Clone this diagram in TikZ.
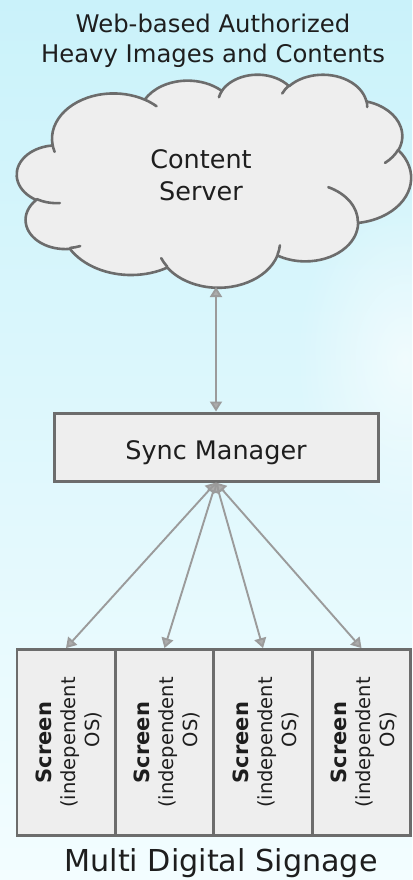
\documentclass[tikz,border=0pt]{standalone}
\usepackage{fontspec}
\setmainfont{DejaVu Sans}
\usetikzlibrary{arrows.meta,fadings,calc}

\definecolor{bgtop}{RGB}{202,242,250}
\definecolor{bgmid}{RGB}{220,249,253}
\definecolor{bgbot}{RGB}{243,253,255}
\definecolor{shapefill}{RGB}{238,238,238}
\definecolor{shapeedge}{RGB}{108,108,108}
\definecolor{linkcol}{RGB}{155,155,155}
\definecolor{headcol}{RGB}{172,172,172}
\definecolor{inkcol}{RGB}{30,30,30}

% soft radial fading for the light haze in the sky
\tikzfading[name=hazefade, inner color=transparent!0, outer color=transparent!100]

% Elliptic arc helper: radii and angles as in a preset cloud outline
% (angles measured visually, y pointing down); stores the TikZ
% start angle and sweep in \arc<name>s and \arc<name>d.
\newcommand\defarc[5]{%
  \pgfmathsetmacro\arctmpa{atan2(#2*sin(#4),#3*cos(#4))}%
  \pgfmathsetmacro\arctmpb{atan2(#2*sin(#4+#5),#3*cos(#4+#5))}%
  \pgfmathsetmacro\arctmpd{\arctmpb-\arctmpa}%
  \pgfmathsetmacro\arctmpd{\arctmpd<0 ? \arctmpd+360 : \arctmpd}%
  \pgfmathsetmacro\arctmpa{0-(\arctmpa)}%
  \pgfmathsetmacro\arctmpd{0-(\arctmpd)}%
  \expandafter\xdef\csname arc#1s\endcsname{\arctmpa}%
  \expandafter\xdef\csname arc#1d\endcsname{\arctmpd}%
}
% outline arcs
\defarc{A}{67.53}{91.90}{-190.4875}{123.7805}
\defarc{B}{53.33}{72.67}{-144.1024}{89.9452}
\defarc{C}{43.65}{59.45}{-145.8079}{99.7230}
\defarc{D}{48.57}{65.95}{-130.9861}{117.2417}
\defarc{E}{53.33}{72.73}{-78.7089}{109.0269}
\defarc{F}{67.75}{92.20}{-46.2673}{130.2690}
\defarc{G}{57.85}{78.67}{0.6250}{114.0333}
\defarc{H}{67.52}{92.15}{22.4516}{115.1726}
\defarc{I}{77.20}{105.43}{66.2426}{75.7110}
\defarc{J}{43.60}{59.18}{-274.9421}{146.7356}
\defarc{K}{43.45}{59.45}{-246.8285}{152.5189}
% inner fold arcs
\defarc{a}{43.45}{59.45}{86.7420}{26.4295}
\defarc{b}{43.60}{59.18}{73.6105}{11.4475}
\defarc{c}{67.52}{92.15}{137.6242}{14.0811}
\defarc{d}{67.52}{92.15}{6.4533}{15.9984}
\defarc{e}{57.85}{78.67}{-70.2924}{70.9174}
\defarc{f}{53.33}{72.73}{30.3180}{27.7515}
\defarc{g}{48.57}{65.95}{-13.7443}{14.8589}
\defarc{h}{48.57}{65.95}{-149.1815}{18.1954}
\defarc{i}{43.65}{59.45}{-163.4943}{17.6864}
\defarc{j}{67.53}{91.90}{-66.7070}{12.3194}
\defarc{k}{67.53}{91.90}{157.6544}{11.8582}

\tikzset{
  cloudline/.style={draw=shapeedge, line width=2.6pt, line join=round, line cap=round},
  syncbox/.style={draw=shapeedge, fill=shapefill, line width=3pt, minimum width=324pt,
    minimum height=68pt, inner sep=0pt, text height=24pt, text depth=0pt,
    font=\fontsize{25.5}{30}\selectfont, text=inkcol},
  screenbox/.style={draw=shapeedge, fill=shapefill, line width=2.8pt, minimum width=98pt,
    minimum height=186pt, inner sep=0pt},
  screentext/.style={rotate=90, align=center, inner sep=0pt, text=inkcol,
    font=\fontsize{19.5}{24}\selectfont},
  link/.style={draw=linkcol, line width=1.9pt,
    {Triangle[length=10pt,width=12pt,fill=headcol]}-{Triangle[length=10pt,width=12pt,fill=headcol]}},
  label/.style={align=center, text=inkcol, inner sep=0pt}
}

\begin{document}
\begin{tikzpicture}[x=1pt, y=1pt]
  % sky background
  \useasboundingbox (0,0) rectangle (412,-880);
  \shade[top color=bgtop, middle color=bgmid, bottom color=bgbot] (0,0) rectangle (412,-880);
  \fill[white, opacity=0.6, path fading=hazefade]
    (405,-360) ellipse (110 and 170);

  % cloud shaped server
  \begin{scope}[shift={(17,-74)}, xscale=394/432, yscale=213/432]
    \filldraw[cloudline, fill=shapefill] (39.00,-143.70)
      arc[start angle=\arcAs, delta angle=\arcAd, x radius=67.53, y radius=91.90]
      arc[start angle=\arcBs, delta angle=\arcBd, x radius=53.33, y radius=72.67]
      arc[start angle=\arcCs, delta angle=\arcCd, x radius=43.65, y radius=59.45]
      arc[start angle=\arcDs, delta angle=\arcDd, x radius=48.57, y radius=65.95]
      arc[start angle=\arcEs, delta angle=\arcEd, x radius=53.33, y radius=72.73]
      arc[start angle=\arcFs, delta angle=\arcFd, x radius=67.75, y radius=92.20]
      arc[start angle=\arcGs, delta angle=\arcGd, x radius=57.85, y radius=78.67]
      arc[start angle=\arcHs, delta angle=\arcHd, x radius=67.52, y radius=92.15]
      arc[start angle=\arcIs, delta angle=\arcId, x radius=77.20, y radius=105.43]
      arc[start angle=\arcJs, delta angle=\arcJd, x radius=43.60, y radius=59.18]
      arc[start angle=\arcKs, delta angle=\arcKd, x radius=43.45, y radius=59.45]
      -- cycle;
    \draw[cloudline]
      (46.93,-261.77) arc[start angle=\arcas, delta angle=\arcad, x radius=43.45, y radius=59.45]
      (69.28,-348.99) arc[start angle=\arcbs, delta angle=\arcbd, x radius=43.60, y radius=59.18]
      (164.78,-390.90) arc[start angle=\arccs, delta angle=\arccd, x radius=67.52, y radius=92.15]
      (288.27,-347.51) arc[start angle=\arcds, delta angle=\arcdd, x radius=67.52, y radius=92.15]
      (341.29,-229.54) arc[start angle=\arces, delta angle=\arced, x radius=57.85, y radius=78.67]
      (417.98,-153.54) arc[start angle=\arcfs, delta angle=\arcfd, x radius=53.33, y radius=72.73]
      (383.24,-54.26) arc[start angle=\arcgs, delta angle=\arcgd, x radius=48.57, y radius=65.95]
      (290.78,-39.52) arc[start angle=\archs, delta angle=\archd, x radius=48.57, y radius=65.95]
      (221.41,-47.20) arc[start angle=\arcis, delta angle=\arcid, x radius=43.65, y radius=59.45]
      (140.00,-51.92) arc[start angle=\arcjs, delta angle=\arcjd, x radius=67.53, y radius=91.90]
      (41.27,-157.89) arc[start angle=\arcks, delta angle=\arckd, x radius=67.53, y radius=91.90];
  \end{scope}
  \coordinate (cloudbot) at (216,-287);

  % texts
  \node[label, font=\fontsize{24.3}{29.5}\selectfont] (title) at (213,-41)
    {Web-based Authorized\\Heavy Images and Contents};
  \node[label, font=\fontsize{25.5}{32}\selectfont] (server) at (201,-175)
    {Content\\Server};

  % sync manager
  \node[syncbox] (sync) at (216,-447) {Sync Manager};

  % screens
  \node[screenbox] (s1) at (66,-742.5) {};
  \node[screenbox] (s2) at (164.5,-742.5) {};
  \node[screenbox] (s3) at (263,-742.5) {};
  \node[screenbox] (s4) at (361.5,-742.5) {};
  \foreach \i in {1,...,4}{
    \node[screentext] (t\i) at ($(s\i.center)+(2.5,0)$)
      {{\bfseries\fontsize{21}{24}\selectfont Screen}\\(independent\\\hspace*{26pt}OS)};
  }
  \node[anchor=base, text=inkcol, inner sep=0pt, font=\fontsize{30.2}{35}\selectfont]
    (caption) at (221,-871) {Multi Digital Signage};

  % connectors
  \draw[link] (cloudbot) -- (sync.north);
  \foreach \i in {1,...,4}{
    \draw[link] (sync.south) -- (s\i.north);
  }
\end{tikzpicture}
\end{document}
